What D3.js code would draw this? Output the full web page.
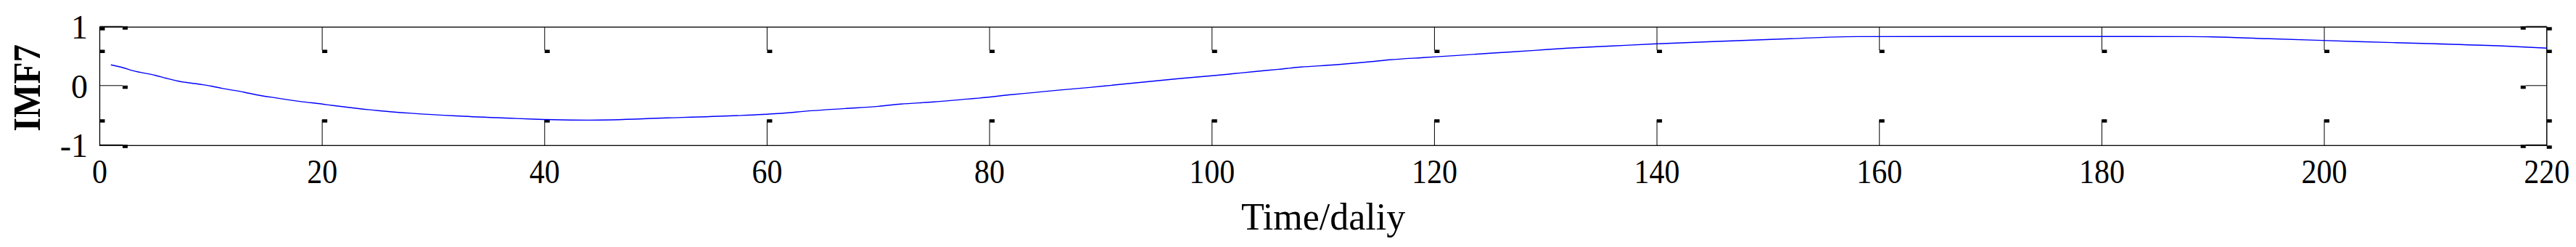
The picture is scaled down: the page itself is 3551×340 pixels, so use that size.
<!DOCTYPE html>
<html>
<head>
<meta charset="utf-8">
<script src="https://cdn.jsdelivr.net/npm/d3@7"></script>
<style>
  html, body { margin: 0; padding: 0; background: #fff; }
  svg { display: block; }
  text { font-family: "Liberation Serif", "Times New Roman", serif; fill: #000; }
</style>
</head>
<body>
<svg id="chart" width="3551" height="340"></svg>
<script>
// ---- data ----
const timeDays = [1, 2, 3, 5, 6, 7, 9, 10, 11, 13, 14, 16, 18, 20, 21, 23, 25, 28, 32, 37, 39, 44,
  51, 57, 61, 64, 67, 70, 72, 75, 78, 79, 82, 84, 86, 89, 91, 93, 95, 97, 100, 102, 104, 106, 108,
  111, 114, 116, 119, 122, 125, 129, 132, 136, 140, 145, 152, 158, 175, 188, 195, 203, 210, 216, 220];
const imf7 = [0.362, 0.320, 0.262, 0.185, 0.135, 0.090, 0.034, 0.004, -0.034, -0.100, -0.140, -0.200,
  -0.255, -0.300, -0.325, -0.370, -0.410, -0.455, -0.500, -0.540, -0.555, -0.571,
  -0.534, -0.497, -0.460, -0.412, -0.375, -0.338, -0.300, -0.264, -0.215, -0.200, -0.141, -0.105,
  -0.068, -0.019, 0.018, 0.055, 0.092, 0.129, 0.178, 0.215, 0.252, 0.288, 0.325,
  0.362, 0.411, 0.448, 0.485, 0.521, 0.558, 0.607, 0.644, 0.681, 0.718, 0.755, 0.804, 0.840, 0.842,
  0.840, 0.804, 0.755, 0.718, 0.681, 0.644];
const xTickValues = [0, 20, 40, 60, 80, 100, 120, 140, 160, 180, 200, 220];
const yTickValues = [-1, 0, 1];
const xDomain = [0, 220];
const yDomain = [-1, 1];
const xLabel = "Time/daliy";
const yLabel = "IMF7";

// ---- layout ----
const pLeft = 137.5, pRight = 3510.7, pTop = 37.3, pBottom = 200.3;
const svg = d3.select("#chart");
const x = d3.scaleLinear().domain(xDomain).range([pLeft, pRight]);
const y = d3.scaleLinear().domain(yDomain).range([pBottom, pTop]);

svg.append("rect").attr("width", 3551).attr("height", 340).attr("fill", "#fff");

// x ticks (MATLAB-style long ticks with end markers)
const xTickTopEnd = pTop + 31.7, xTickBotEnd = pBottom - 35.6;
const tickG = svg.append("g").attr("stroke", "#000").attr("stroke-width", 1);
tickG.selectAll("line.xt").data(xTickValues).join("line").attr("class", "xt")
  .attr("x1", d => x(d)).attr("x2", d => x(d))
  .attr("y1", pTop).attr("y2", xTickTopEnd);
tickG.selectAll("line.xb").data(xTickValues).join("line").attr("class", "xb")
  .attr("x1", d => x(d)).attr("x2", d => x(d))
  .attr("y1", pBottom).attr("y2", xTickBotEnd);
// y ticks
tickG.selectAll("line.yl").data(yTickValues).join("line").attr("class", "yl")
  .attr("x1", pLeft).attr("x2", pLeft + 31.5)
  .attr("y1", d => y(d) - 1).attr("y2", d => y(d) - 1);
tickG.selectAll("line.yr").data(yTickValues).join("line").attr("class", "yr")
  .attr("x1", pRight).attr("x2", pRight - 29)
  .attr("y1", d => y(d) - 1).attr("y2", d => y(d) - 1);

// markers at tick ends
const mW = 7, mH = 4.5;
const mk = svg.append("g").attr("fill", "#000");
mk.selectAll("rect.mt").data(xTickValues).join("rect").attr("class", "mt")
  .attr("x", d => x(d)).attr("y", xTickTopEnd - 0.5).attr("width", mW).attr("height", mH);
mk.selectAll("rect.mb").data(xTickValues).join("rect").attr("class", "mb")
  .attr("x", d => x(d)).attr("y", xTickBotEnd - 0.5).attr("width", mW).attr("height", mH);
mk.selectAll("rect.ml").data(yTickValues).join("rect").attr("class", "ml")
  .attr("x", pLeft + 31.5).attr("y", d => Math.min(y(d) - 1, pBottom)).attr("width", mW).attr("height", mH);
mk.selectAll("rect.mr").data(yTickValues).join("rect").attr("class", "mr")
  .attr("x", pRight - 29 - mW).attr("y", d => Math.min(y(d) - 1, pBottom)).attr("width", mW).attr("height", mH);
mk.selectAll("rect.mc").data([[xDomain[0], yDomain[1]], [xDomain[1], yDomain[1]], [xDomain[1], yDomain[0]]]).join("rect").attr("class", "mc")
  .attr("x", d => x(d[0])).attr("y", d => y(d[1])).attr("width", mW).attr("height", mH);

// frame
svg.append("rect")
  .attr("x", pLeft).attr("y", pTop).attr("width", pRight - pLeft).attr("height", pBottom - pTop)
  .attr("fill", "none").attr("stroke", "#000").attr("stroke-width", 1.3);

// series line
const line = d3.line().x(d => x(d[0])).y(d => y(d[1])).curve(d3.curveMonotoneX);
svg.append("path")
  .datum(timeDays.map((t, i) => [t, imf7[i]]))
  .attr("d", line)
  .attr("fill", "none").attr("stroke", "#0000ff").attr("stroke-width", 1.4);

// tick labels
svg.append("g").selectAll("text").data(xTickValues).join("text")
  .attr("x", d => x(d)).attr("y", 252)
  .attr("text-anchor", "middle").attr("font-size", 46)
  .attr("textLength", d => String(d).length * 21)
  .attr("lengthAdjust", "spacingAndGlyphs")
  .text(d => d);
svg.append("g").selectAll("text").data(yTickValues).join("text")
  .attr("x", 121).attr("y", d => y(d) + 16)
  .attr("text-anchor", "end").attr("font-size", 46)
  .text(d => d);

// axis titles
svg.append("text")
  .attr("x", (pLeft + pRight) / 2).attr("y", 316)
  .attr("text-anchor", "middle").attr("font-size", 52)
  .text(xLabel);
svg.append("text")
  .attr("transform", "translate(55,121) rotate(-90)")
  .attr("text-anchor", "middle").attr("font-size", 53).attr("font-weight", "bold")
  .attr("textLength", 120).attr("lengthAdjust", "spacingAndGlyphs")
  .text(yLabel);
</script>
</body>
</html>
